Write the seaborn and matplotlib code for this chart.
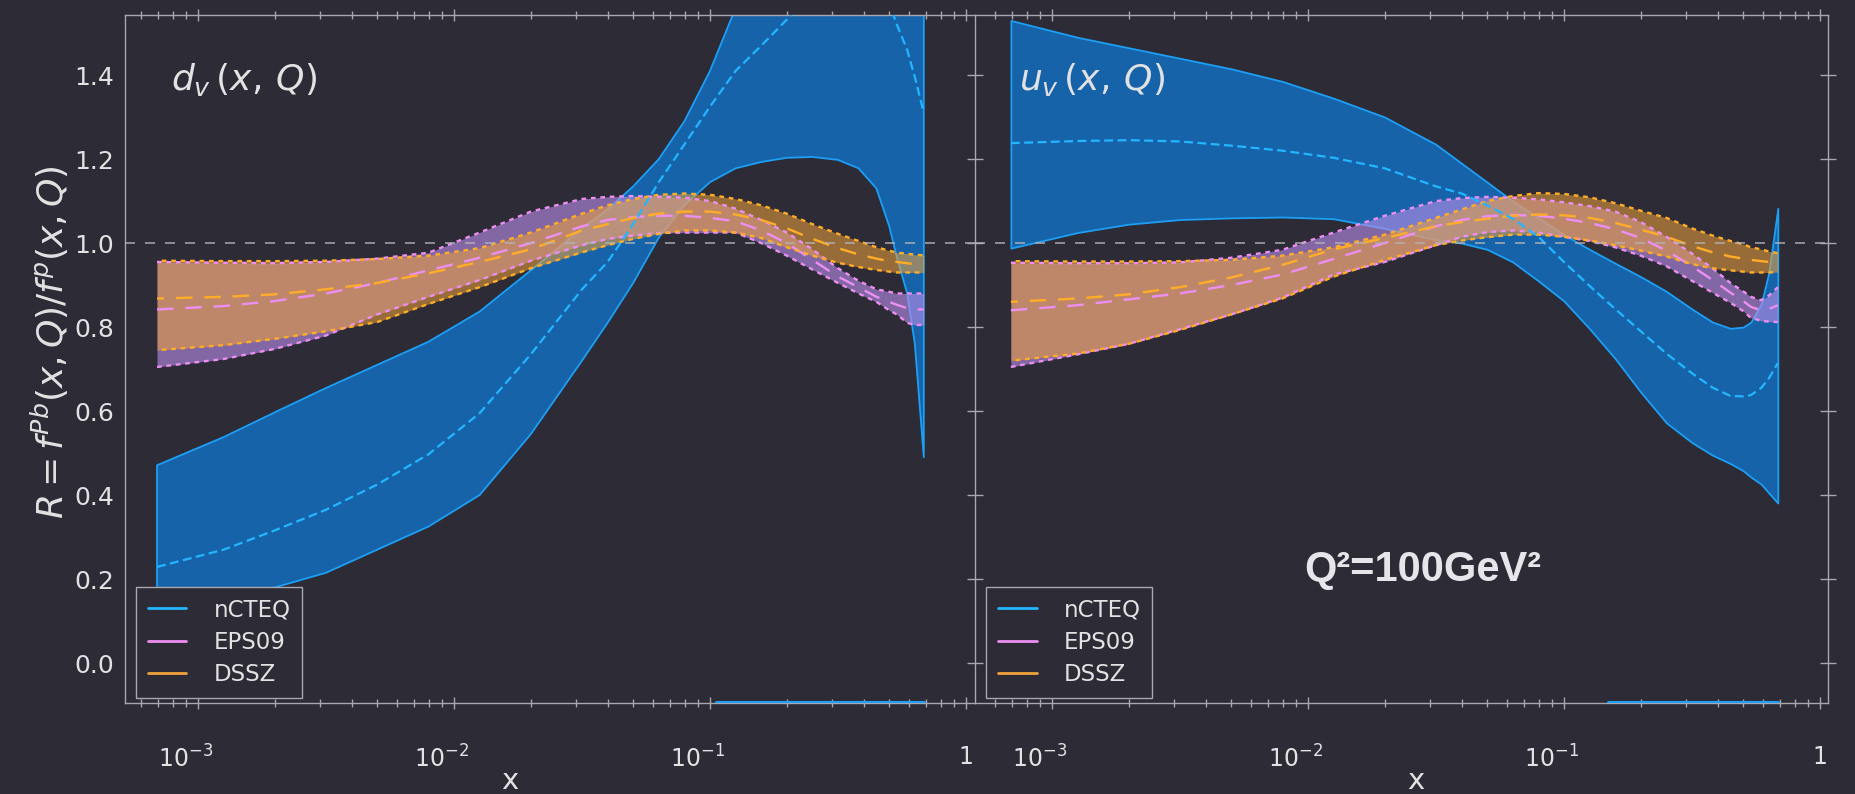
import numpy as np
import pandas as pd
import matplotlib
matplotlib.use("Agg")
import matplotlib.pyplot as plt
import matplotlib.transforms as mtransforms
import seaborn as sns
from matplotlib.lines import Line2D
from matplotlib.ticker import LogLocator, NullFormatter, FixedLocator, FixedFormatter

# ---------------- data ----------------
x_grid = [6.92e-4, 1.259e-3, 1.995e-3, 3.162e-3, 5.012e-3, 7.943e-3, 1.259e-2,
          1.995e-2, 3.162e-2, 3.981e-2, 5.012e-2, 6.31e-2, 7.943e-2, 0.1,
          0.1259, 0.1585, 0.1995, 0.2512, 0.3162, 0.3802, 0.4467, 0.5012,
          0.537, 0.589, 0.631, 0.684]

# d_v panel
dv_ncteq_up = [0.471, 0.538, 0.597, 0.655, 0.71, 0.765, 0.837, 0.935, 1.035, 1.08,
               1.135, 1.20, 1.29, 1.41, 1.56, 1.72, 1.86, 2.0, 2.1, 2.2, 2.3, 2.35,
               2.4, 2.45, 2.5, 2.5]
dv_ncteq_mid = [0.229, 0.27, 0.316, 0.365, 0.425, 0.497, 0.595, 0.735, 0.89, 0.955,
                1.045, 1.145, 1.235, 1.325, 1.41, 1.47, 1.532, 1.6, 1.65, 1.66, 1.63,
                1.57, 1.52, 1.46, 1.395, 1.31]
dv_ncteq_lo = [0.16, 0.166, 0.18, 0.215, 0.27, 0.325, 0.4, 0.545, 0.72, 0.81,
               0.905, 1.013, 1.09, 1.145, 1.178, 1.193, 1.203, 1.205, 1.198, 1.178,
               1.13, 1.04, 0.966, 0.88, 0.76, 0.49]
dv_eps_up = [0.955, 0.953, 0.952, 0.955, 0.963, 0.977, 1.025, 1.075, 1.105, 1.11,
             1.112, 1.11, 1.108, 1.10, 1.082, 1.055, 1.025, 0.985, 0.94, 0.91, 0.89,
             0.884, 0.88, 0.88, 0.88, 0.88]
dv_eps_mid = [0.842, 0.85, 0.862, 0.88, 0.905, 0.935, 0.965, 1.0, 1.04, 1.055,
              1.062, 1.065, 1.065, 1.06, 1.052, 1.03, 1.0, 0.96, 0.92, 0.895, 0.872,
              0.86, 0.853, 0.845, 0.842, 0.842]
dv_eps_lo = [0.705, 0.724, 0.748, 0.78, 0.83, 0.872, 0.912, 0.958, 0.995, 1.01,
             1.018, 1.024, 1.025, 1.025, 1.025, 1.0, 0.97, 0.937, 0.905, 0.88, 0.86,
             0.84, 0.83, 0.81, 0.805, 0.805]
dv_dssz_up = [0.958, 0.957, 0.957, 0.958, 0.962, 0.97, 0.988, 1.025, 1.07, 1.09,
              1.105, 1.115, 1.118, 1.115, 1.105, 1.09, 1.07, 1.045, 1.022, 1.005,
              0.99, 0.982, 0.977, 0.975, 0.972, 0.971]
dv_dssz_mid = [0.868, 0.872, 0.878, 0.89, 0.905, 0.928, 0.955, 0.985, 1.03, 1.045,
               1.06, 1.07, 1.075, 1.075, 1.068, 1.055, 1.035, 1.01, 0.988, 0.973,
               0.963, 0.957, 0.955, 0.952, 0.95, 0.95]
dv_dssz_lo = [0.745, 0.757, 0.772, 0.79, 0.812, 0.855, 0.895, 0.94, 0.978, 0.995,
              1.01, 1.022, 1.03, 1.03, 1.025, 1.012, 0.99, 0.97, 0.953, 0.943, 0.936,
              0.932, 0.93, 0.93, 0.93, 0.93]
dv_floor_x = [0.106, 0.684]
dv_floor_y = [-0.093, -0.093]

# u_v panel
uv_ncteq_up = [1.53, 1.49, 1.465, 1.44, 1.415, 1.385, 1.345, 1.30, 1.235, 1.19,
               1.145, 1.10, 1.06, 1.02, 0.985, 0.952, 0.92, 0.885, 0.843, 0.812,
               0.797, 0.80, 0.812, 0.855, 0.93, 1.083]
uv_ncteq_mid = [1.238, 1.243, 1.245, 1.242, 1.232, 1.22, 1.203, 1.178, 1.135, 1.118,
                1.09, 1.058, 1.015, 0.955, 0.898, 0.843, 0.79, 0.737, 0.69, 0.656,
                0.636, 0.635, 0.638, 0.655, 0.678, 0.714]
uv_ncteq_lo = [0.988, 1.025, 1.045, 1.056, 1.06, 1.062, 1.058, 1.035, 1.008, 1.0,
               0.985, 0.955, 0.91, 0.862, 0.796, 0.725, 0.645, 0.572, 0.525, 0.495,
               0.475, 0.458, 0.443, 0.426, 0.405, 0.381]
uv_eps_up = [0.953, 0.952, 0.952, 0.954, 0.965, 0.984, 1.025, 1.065, 1.10, 1.107,
             1.11, 1.108, 1.104, 1.097, 1.088, 1.075, 1.05, 1.015, 0.975, 0.94,
             0.905, 0.885, 0.872, 0.864, 0.875, 0.895]
uv_eps_mid = [0.84, 0.852, 0.866, 0.88, 0.9, 0.925, 0.962, 1.0, 1.04, 1.055,
              1.064, 1.067, 1.065, 1.058, 1.048, 1.033, 1.012, 0.982, 0.945, 0.912,
              0.882, 0.862, 0.848, 0.84, 0.843, 0.852]
uv_eps_lo = [0.705, 0.735, 0.76, 0.795, 0.83, 0.87, 0.925, 0.955, 0.995, 1.015,
             1.026, 1.03, 1.025, 1.015, 1.005, 0.99, 0.97, 0.945, 0.91, 0.882,
             0.858, 0.838, 0.822, 0.815, 0.813, 0.812]
uv_dssz_up = [0.957, 0.956, 0.956, 0.957, 0.96, 0.97, 0.99, 1.02, 1.06, 1.08,
              1.10, 1.112, 1.119, 1.117, 1.109, 1.095, 1.077, 1.06, 1.035, 1.018,
              1.005, 0.997, 0.99, 0.985, 0.98, 0.976]
uv_dssz_mid = [0.86, 0.868, 0.878, 0.895, 0.918, 0.948, 0.985, 1.012, 1.04, 1.05,
               1.058, 1.065, 1.068, 1.066, 1.06, 1.048, 1.032, 1.015, 0.993, 0.978,
               0.968, 0.963, 0.96, 0.957, 0.955, 0.955]
uv_dssz_lo = [0.72, 0.737, 0.76, 0.793, 0.83, 0.868, 0.92, 0.96, 0.995, 1.006,
              1.014, 1.02, 1.02, 1.015, 1.006, 0.995, 0.982, 0.968, 0.95, 0.94,
              0.935, 0.932, 0.93, 0.93, 0.93, 0.931]
uv_floor_x = [0.148, 0.684]
uv_floor_y = [-0.093, -0.093]

series_names = ["nCTEQ", "EPS09", "DSSZ"]
y_ticks = [0.0, 0.2, 0.4, 0.6, 0.8, 1.0, 1.2, 1.4]
x_major = [1e-3, 1e-2, 1e-1, 1.0]
x_major_labels = ["$10^{-3}$", "$10^{-2}$", "$10^{-1}$", "1"]

# ---------------- style ----------------
BG = "#2c2b36"
FG = "#e2e2e2"
SPINE = "#a8a8ae"
NC_FILL = "#1763aa"
NC_EDGE = "#1c9ff5"
NC_MID = "#22b6ff"
EPS_FILL = "#b88de8"
EPS_LINE = "#ec8ef2"
DSSZ_FILL = "#f0a33a"
DSSZ_LINE = "#ffad28"

sns.set_style("dark", {"axes.facecolor": BG, "figure.facecolor": BG,
                       "axes.edgecolor": SPINE, "text.color": FG})
plt.rcParams["font.family"] = ["DejaVu Sans"]
plt.rcParams["mathtext.fontset"] = "dejavusans"

W, H = 1856, 794
fig = plt.figure(figsize=(W / 100, H / 100), dpi=100)
fig.patch.set_facecolor(BG)
ax1 = fig.add_axes([125 / W, 1 - 703 / H, 850 / W, 688 / H])
ax2 = fig.add_axes([975 / W, 1 - 703 / H, 853 / W, 688 / H])


def draw_panel(ax, nc, eps, dssz, floor, xlim, label, label_xy):
    x = x_grid
    ax.fill_between(x, nc[0], nc[2], facecolor=NC_FILL, edgecolor=NC_EDGE,
                    linewidth=1.3, zorder=2)
    ax.fill_between(x, eps[0], eps[2], facecolor=EPS_FILL, alpha=0.62,
                    linewidth=0, zorder=3)
    ax.fill_between(x, dssz[0], dssz[2], facecolor=DSSZ_FILL, alpha=0.55,
                    linewidth=0, zorder=4)
    for vals, col, ls, z in [
        (eps[0], EPS_LINE, (0, (2, 2)), 5), (eps[2], EPS_LINE, (0, (2, 2)), 5),
        (eps[1], EPS_LINE, (0, (7, 5)), 5),
        (dssz[0], DSSZ_LINE, (2, (2, 2)), 6), (dssz[2], DSSZ_LINE, (2, (2, 2)), 6),
        (dssz[1], DSSZ_LINE, (4, (7, 5)), 6),
    ]:
        sns.lineplot(x=x, y=vals, ax=ax, color=col, linestyle=ls, linewidth=1.7,
                     sort=False, estimator=None, legend=False, zorder=z)
    sns.lineplot(x=x, y=nc[1], ax=ax, color=NC_MID, linestyle=(0, (4, 2)),
                 linewidth=1.6, sort=False, estimator=None, legend=False, zorder=7)
    sns.lineplot(x=floor[0], y=floor[1], ax=ax, color=NC_EDGE, linewidth=2.2,
                 sort=False, estimator=None, legend=False, zorder=7)
    ax.axhline(1.0, color="#b4b4b8", linestyle=(0, (6, 6)), linewidth=1.2,
               zorder=8, alpha=0.85)

    ax.set_xscale("log")
    ax.set_xlim(*xlim)
    ax.set_ylim(-0.095, 1.543)
    ax.xaxis.set_major_locator(FixedLocator(x_major))
    ax.xaxis.set_major_formatter(FixedFormatter(x_major_labels))
    ax.xaxis.set_minor_locator(LogLocator(base=10, subs=np.arange(2, 10), numticks=30))
    ax.xaxis.set_minor_formatter(NullFormatter())
    ax.tick_params(axis="x", which="major", direction="inout", length=9, width=1,
                   top=True, bottom=True, colors=SPINE, labelcolor=FG,
                   labelsize=17, pad=26)
    ax.tick_params(axis="x", which="minor", direction="inout", length=6, width=1,
                   top=True, bottom=True, colors=SPINE)
    ax.set_yticks(y_ticks)
    ax.tick_params(axis="y", which="major", direction="inout", length=12, width=1,
                   colors=SPINE, labelcolor=FG, labelsize=18, pad=2)
    ax.set_xlabel("")
    ax.set_ylabel("")
    for sp in ax.spines.values():
        sp.set_color(SPINE)
        sp.set_linewidth(1.0)
    ax.grid(False)
    ax.text(label_xy[0], label_xy[1], label, transform=ax.transAxes, fontsize=26,
            color=FG, ha="center", va="center", zorder=10)
    handles = [Line2D([0], [0], color=c, lw=2) for c in (NC_MID, EPS_LINE, DSSZ_FILL)]
    leg = ax.legend(handles, series_names, loc="upper left",
                    bbox_to_anchor=(0.013, 0.169), borderaxespad=0, fontsize=16.5,
                    frameon=True, fancybox=False, handlelength=1.7,
                    handletextpad=1.2, labelspacing=0.42, borderpad=0.5,
                    labelcolor=FG)
    leg.get_frame().set_facecolor(BG)
    leg.get_frame().set_edgecolor(SPINE)
    leg.get_frame().set_alpha(1.0)
    leg.set_zorder(20)
    shift = mtransforms.ScaledTranslation(-0.12, 0, fig.dpi_scale_trans)
    for lab, txt in zip(ax.get_xticklabels(), x_major_labels):
        if txt != "1":
            lab.set_transform(lab.get_transform() + shift)


draw_panel(ax1, (dv_ncteq_lo, dv_ncteq_mid, dv_ncteq_up),
           (dv_eps_lo, dv_eps_mid, dv_eps_up),
           (dv_dssz_lo, dv_dssz_mid, dv_dssz_up),
           (dv_floor_x, dv_floor_y), (10 ** -3.285, 10 ** 0.035),
           r"$d_v\,(x,\,Q)$", (0.14, 0.906))
draw_panel(ax2, (uv_ncteq_lo, uv_ncteq_mid, uv_ncteq_up),
           (uv_eps_lo, uv_eps_mid, uv_eps_up),
           (uv_dssz_lo, uv_dssz_mid, uv_dssz_up),
           (uv_floor_x, uv_floor_y), (10 ** -3.30, 10 ** 0.031),
           r"$u_v\,(x,\,Q)$", (0.137, 0.906))

ax1.set_yticklabels([f"{v:.1f}" for v in y_ticks])
ax1.spines["right"].set_visible(False)
ax1.tick_params(axis="y", right=False)
ax2.tick_params(axis="y", labelleft=False, left=True, right=True)

fig.text(50 / W, 1 - 342 / H, "$R = f^{Pb}(x,Q)/f^{p}(x,Q)$", rotation=90,
         fontsize=26, color=FG, ha="center", va="center")
fig.text(510 / W, 1 - 781 / H, "x", fontsize=21, color=FG, ha="center", va="center")
fig.text(1416 / W, 1 - 781 / H, "x", fontsize=21, color=FG, ha="center", va="center")
ax2.text(0.525, 0.193, "Q²=100GeV²", transform=ax2.transAxes, fontsize=30,
         fontweight="bold", family=["Liberation Sans", "DejaVu Sans"],
         color="#e6e6ea", ha="center", va="center", zorder=10)

fig.savefig("out.png", dpi=100, facecolor=BG)
